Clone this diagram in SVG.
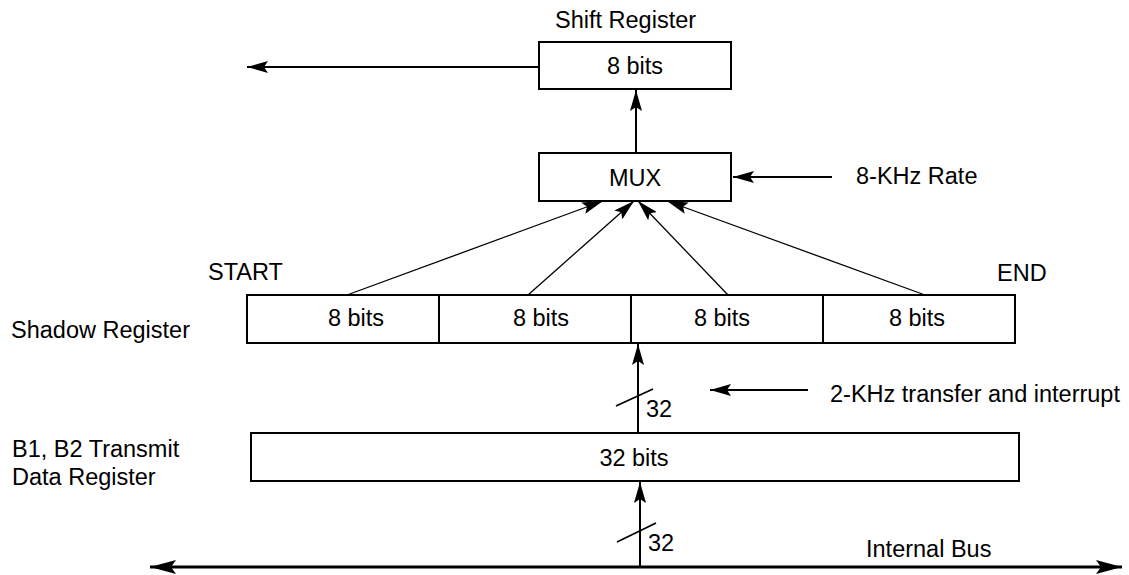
<svg xmlns="http://www.w3.org/2000/svg" width="1129" height="575" viewBox="0 0 1129 575">
<style>
  text { font-family: "Liberation Sans", Arial, Helvetica, sans-serif; font-size: 23.5px; fill: #000; }
  .mid { text-anchor: middle; }
  .box { fill: #fff; stroke: #000; stroke-width: 2; }
  .wire { fill: none; stroke: #000; stroke-width: 2; }
  .thin { fill: none; stroke: #000; stroke-width: 1.3; }
  .slash { fill: none; stroke: #000; stroke-width: 1.8; }
  .bus { fill: none; stroke: #000; stroke-width: 3; }
</style>
<defs>
  <marker id="ah" markerUnits="userSpaceOnUse" viewBox="0 0 21 12" refX="21" refY="6" markerWidth="21" markerHeight="12" orient="auto">
    <path d="M0,0 L21,6 L0,12 L4,6 z" fill="#000"/>
  </marker>
  <marker id="ahb" markerUnits="userSpaceOnUse" viewBox="0 0 26 14" refX="26" refY="7" markerWidth="26" markerHeight="14" orient="auto-start-reverse">
    <path d="M0,0 L26,7 L0,14 L5,7 z" fill="#000"/>
  </marker>
</defs>
<rect width="1129" height="575" fill="#fff"/>

<g id="connectors">
  <line class="wire" x1="539" y1="67" x2="247" y2="67" marker-end="url(#ah)"/>
  <line class="wire" x1="636" y1="153" x2="636" y2="90" marker-end="url(#ah)"/>
  <line class="wire" x1="832" y1="177" x2="733" y2="177" marker-end="url(#ah)"/>
  <line class="thin" x1="347" y1="295" x2="603" y2="201" marker-end="url(#ah)"/>
  <line class="thin" x1="528" y1="295" x2="634" y2="201" marker-end="url(#ah)"/>
  <line class="thin" x1="728" y1="295" x2="638" y2="201" marker-end="url(#ah)"/>
  <line class="thin" x1="925" y1="295" x2="667" y2="201" marker-end="url(#ah)"/>
  <line class="wire" x1="638" y1="433" x2="638" y2="344" marker-end="url(#ah)"/>
  <line class="slash" x1="616" y1="406" x2="653" y2="389"/>
  <line class="wire" x1="808" y1="390" x2="710" y2="390" marker-end="url(#ah)"/>
  <line class="wire" x1="640" y1="567" x2="640" y2="482" marker-end="url(#ah)"/>
  <line class="slash" x1="617" y1="542" x2="656" y2="523"/>
  <line class="bus" x1="150" y1="567" x2="1122" y2="567" marker-start="url(#ahb)" marker-end="url(#ahb)"/>
</g>

<g id="shift-register">
  <text x="555" y="28">Shift Register</text>
  <rect class="box" x="539" y="42" width="192" height="47"/>
  <text class="mid" x="635" y="74">8 bits</text>
</g>

<g id="mux">
  <rect class="box" x="539" y="153" width="192" height="48"/>
  <text class="mid" x="635" y="186">MUX</text>
</g>

<g id="rate-label">
  <text x="856" y="184">8-KHz Rate</text>
</g>

<g id="shadow-register">
  <text x="208" y="280">START</text>
  <text x="997" y="281">END</text>
  <text x="11" y="338">Shadow Register</text>
  <rect class="box" x="247" y="295" width="192" height="48"/>
  <rect class="box" x="439" y="295" width="192" height="48"/>
  <rect class="box" x="631" y="295" width="192" height="48"/>
  <rect class="box" x="823" y="295" width="192" height="48"/>
  <text class="mid" x="356" y="326">8 bits</text>
  <text class="mid" x="541" y="326">8 bits</text>
  <text class="mid" x="722" y="326">8 bits</text>
  <text class="mid" x="917" y="326">8 bits</text>
</g>

<g id="transfer-label">
  <text x="646" y="417">32</text>
  <text x="830" y="402">2-KHz transfer and interrupt</text>
</g>

<g id="transmit-register">
  <text x="12" y="457">B1, B2 Transmit</text>
  <text x="12" y="485">Data Register</text>
  <rect class="box" x="251" y="433" width="768" height="48"/>
  <text class="mid" x="634" y="466">32 bits</text>
</g>

<g id="internal-bus">
  <text x="648" y="551">32</text>
  <text x="866" y="557">Internal Bus</text>
</g>
</svg>
